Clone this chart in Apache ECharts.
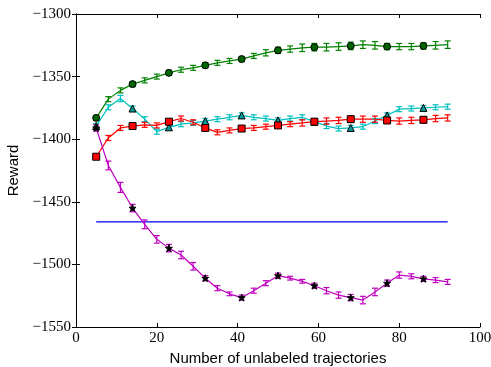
<!DOCTYPE html>
<html lang="en">
<head>
    <meta charset="UTF-8">
    <title>Reward vs unlabeled trajectories</title>
    <style>
        body{ margin:0; background:#fff; }
        .chart{ width:491px; height:367px; }
    </style>
</head>
<body>
<div class="chart" id="main"></div>
<script src="https://cdn.jsdelivr.net/npm/echarts@6/dist/echarts.min.js"></script>
<script>
    // x positions (every 3 trajectories), markers drawn on every third point
    var xs = [5, 8, 11, 14, 17, 20, 23, 26, 29, 32, 35, 38, 41, 44, 47, 50, 53, 56, 59, 62, 65, 68, 71, 74, 77, 80, 83, 86, 89, 92];

    var greenVals = [-1383, -1368, -1361, -1356, -1353, -1350, -1347, -1344.5, -1343, -1341, -1339, -1337.5, -1336, -1333.5, -1331, -1329, -1328, -1327, -1326.5, -1326.5, -1326, -1325.5, -1324.5, -1325, -1326, -1326, -1326, -1325.5, -1325, -1324.5];
    var greenErr  = [2, 2, 2, 2, 2, 2, 2, 2, 2, 2, 2, 2, 2, 2, 2.5, 2.5, 2.5, 3, 3, 3, 3, 3, 3, 3, 2.5, 2.5, 2.5, 2.5, 3, 3];

    var cyanVals = [-1389.5, -1374.5, -1367.5, -1375.5, -1384, -1394, -1390.5, -1388, -1387, -1385.5, -1384, -1382.5, -1381, -1382.5, -1383.5, -1385, -1383.5, -1382.5, -1386, -1389.5, -1391.5, -1391, -1390, -1385.5, -1381, -1376, -1375.5, -1375, -1374.5, -1374];
    var cyanErr  = [2, 2, 2.5, 2, 2, 2, 2, 2, 2, 2, 2, 2, 2, 2, 2, 2, 2, 2, 2, 2, 2, 2, 2, 2, 2, 2, 2, 2, 2, 2];

    var redVals = [-1414, -1399, -1391, -1389.5, -1388.5, -1389, -1386, -1383.5, -1386.5, -1391, -1394.5, -1393, -1391.5, -1391, -1390, -1389, -1388, -1387, -1386, -1385.5, -1385, -1384, -1384, -1384, -1385, -1385.5, -1385, -1384.5, -1383.5, -1383];
    var redErr  = [2, 2, 2, 2, 2, 2, 2, 2, 2, 2, 2, 2, 2, 2, 2, 2, 2, 2.5, 2.5, 2.5, 2.5, 2.5, 2.5, 2.5, 2.5, 2.5, 2.5, 2.5, 2.5, 2.5];

    var magentaVals = [-1391, -1421, -1438.5, -1455, -1468, -1480, -1487, -1492.5, -1501.5, -1511, -1519, -1523.5, -1526.5, -1521, -1515, -1509, -1511, -1513.5, -1517, -1521, -1524.5, -1526.5, -1528.5, -1522, -1515, -1508.5, -1509.5, -1511.5, -1512.5, -1514];
    var magentaErr  = [2.5, 3.5, 4, 3, 3.5, 3, 3, 3, 3, 2, 2, 1.5, 2, 2, 2, 2, 1.5, 1.5, 2, 2.5, 2.5, 2.5, 3, 3, 2.5, 2.5, 2, 2, 2, 2];

    var baseline = -1466;
    var baselineRange = [5, 92];

    var starPath = 'path://M0,-10 L2.35,-3.24 9.51,-3.09 3.8,1.24 5.88,8.09 0,4 -5.88,8.09 -3.8,1.24 -9.51,-3.09 -2.35,-3.24 Z';

    function pairs(vals) {
        var out = [];
        for (var i = 0; i < xs.length; i++) {
            out.push([xs[i], vals[i]]);
        }
        return out;
    }

    function markerPoints(vals) {
        var out = [];
        for (var i = 0; i < xs.length; i += 3) {
            out.push([xs[i], vals[i]]);
        }
        return out;
    }

    function errData(vals, errs) {
        var out = [];
        for (var i = 0; i < xs.length; i++) {
            out.push([xs[i], vals[i] - errs[i], vals[i] + errs[i]]);
        }
        return out;
    }

    function errSeries(vals, errs, color) {
        return {
            type: 'custom',
            z: 3,
            silent: true,
            data: errData(vals, errs),
            renderItem: function (params, api) {
                var lo = api.coord([api.value(0), api.value(1)]);
                var hi = api.coord([api.value(0), api.value(2)]);
                var w = 3;
                var style = { stroke: color, lineWidth: 1.2 };
                return {
                    type: 'group',
                    children: [
                        { type: 'line', shape: { x1: lo[0], y1: lo[1], x2: hi[0], y2: hi[1] }, style: style },
                        { type: 'line', shape: { x1: lo[0] - w, y1: lo[1], x2: lo[0] + w, y2: lo[1] }, style: style },
                        { type: 'line', shape: { x1: hi[0] - w, y1: hi[1], x2: hi[0] + w, y2: hi[1] }, style: style }
                    ]
                };
            }
        };
    }

    function lineSeries(vals, color) {
        return {
            type: 'line',
            z: 2,
            silent: true,
            data: pairs(vals),
            showSymbol: false,
            lineStyle: { color: color, width: 1.2 }
        };
    }

    function markerSeries(vals, symbol, size, fill) {
        return {
            type: 'scatter',
            z: 4,
            silent: true,
            data: markerPoints(vals),
            symbol: symbol,
            symbolSize: size,
            itemStyle: { color: fill, borderColor: '#000', borderWidth: 1, opacity: 1 }
        };
    }

    function minus(v) {
        return String(v).replace('-', '\u2212');
    }

    var myChart = echarts.init(document.getElementById('main'));

    var tickStyle = { inside: true, length: 4, lineStyle: { color: '#000', width: 1 } };
    var labelStyle = { fontFamily: 'Liberation Serif', fontSize: 15, color: '#000' };

    var option = {
        animation: false,
        backgroundColor: '#fff',
        grid: { left: 76, right: 11, top: 14, bottom: 40, containLabel: false, outerBoundsMode: 'none' },
        xAxis: [{
            type: 'value',
            min: 0, max: 100, interval: 20,
            name: 'Number of unlabeled trajectories',
            nameLocation: 'middle',
            nameGap: 22,
            nameTextStyle: { fontFamily: 'Liberation Sans', fontSize: 15, color: '#000' },
            axisLine: { show: true, lineStyle: { color: '#000', width: 1 } },
            axisTick: tickStyle,
            axisLabel: Object.assign({ margin: 4 }, labelStyle),
            splitLine: { show: false }
        }, {
            type: 'value', position: 'top',
            min: 0, max: 100, interval: 20,
            axisLine: { show: true, lineStyle: { color: '#000', width: 1 } },
            axisTick: tickStyle,
            axisLabel: { show: false },
            splitLine: { show: false }
        }],
        yAxis: [{
            type: 'value',
            min: -1550, max: -1300, interval: 50,
            name: 'Reward',
            nameLocation: 'middle',
            nameGap: 46,
            nameTextStyle: { fontFamily: 'Liberation Sans', fontSize: 15, color: '#000' },
            axisLine: { show: true, lineStyle: { color: '#000', width: 1 } },
            axisTick: tickStyle,
            axisLabel: Object.assign({ margin: 5, formatter: minus }, labelStyle),
            splitLine: { show: false }
        }, {
            type: 'value', position: 'right',
            min: -1550, max: -1300, interval: 50,
            axisLine: { show: true, lineStyle: { color: '#000', width: 1 } },
            axisTick: tickStyle,
            axisLabel: { show: false },
            splitLine: { show: false }
        }],
        series: [
            {
                type: 'line', z: 1, silent: true, showSymbol: false,
                data: [[baselineRange[0], baseline], [baselineRange[1], baseline]],
                lineStyle: { color: '#0000ff', width: 1.2 }
            },
            lineSeries(greenVals, '#008000'),
            errSeries(greenVals, greenErr, '#008000'),
            markerSeries(greenVals, 'circle', 7, '#006400'),
            lineSeries(cyanVals, '#00bfbf'),
            errSeries(cyanVals, cyanErr, '#00bfbf'),
            markerSeries(cyanVals, 'triangle', 7, '#009a9a'),
            lineSeries(redVals, '#ff0000'),
            errSeries(redVals, redErr, '#ff0000'),
            markerSeries(redVals, 'rect', 7, '#ff0000'),
            lineSeries(magentaVals, '#bf00bf'),
            errSeries(magentaVals, magentaErr, '#bf00bf'),
            markerSeries(magentaVals, starPath, 7, '#000000')
        ]
    };
    myChart.setOption(option);
</script>
</body>
</html>
